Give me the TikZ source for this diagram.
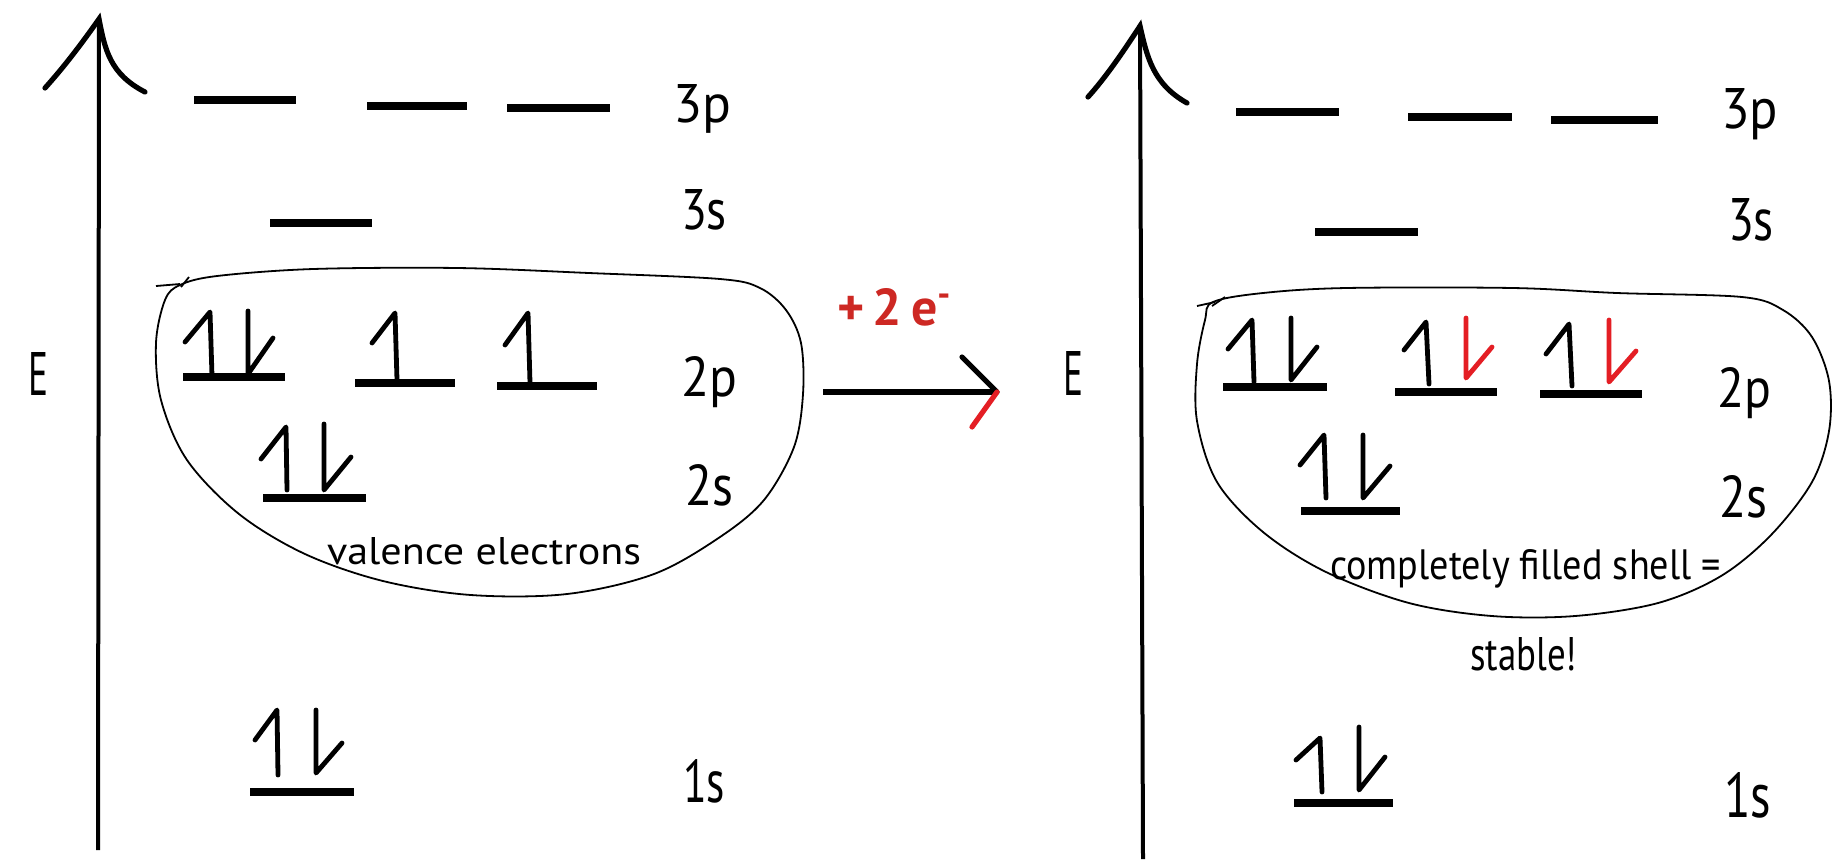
\documentclass[tikz,border=0pt]{standalone}
\usepackage{fontspec}
\usepackage{graphicx}
\setsansfont{PT Sans}
\newdimen\pu \pu=0.5pt
\definecolor{txtred}{RGB}{205,40,35}
\definecolor{elred}{RGB}{228,30,36}
\tikzset{
 level/.style={line width=3.6pt},
 elec/.style={line width=2.4pt, line cap=round, line join=round},
 axisline/.style={line width=2pt},
 arm/.style={line width=2.6pt, line cap=round, line join=round},
 tiparm/.style={line width=2.6pt, line cap=round, line join=miter},
 blob/.style={line width=0.9pt},
 lbl/.style={anchor=base west, inner sep=0pt, outer sep=0pt, font=\sffamily},
}
\newcommand{\lab}[6]{\node[lbl] (#1) at (#2,#3) {\resizebox{#4\pu}{#5\pu}{#6}};}
\begin{document}
\begin{tikzpicture}[x=0.5pt,y=-0.5pt]
\fill[white] (0,0) rectangle (1839,859);
\useasboundingbox (0,0) rectangle (1839,859);

% ---------- left panel ----------
\coordinate (LTop) at (99,19);
\coordinate (LBot) at (98,850);
\draw[axisline] (LTop) -- (LBot);
\draw[tiparm] (45,88) .. controls (63,68) and (80,46) .. (LTop) .. controls (105,50) and (110,74) .. (145,92);
\lab{EL}{28}{395}{20}{43}{E}

\draw[level] (194,100) -- (296,100);
\draw[level] (367,106) -- (467,106);
\draw[level] (507,108) -- (610,108);
\draw[level] (270,223) -- (372,223);
\draw[level] (183,377) -- (285,377);
\draw[level] (355,383) -- (455,383);
\draw[level] (497,386) -- (597,386);
\draw[level] (263,498) -- (366,498);
\draw[level] (250,792) -- (354,792);

\lab{L3p}{673}{122}{58}{38}{3p}
\lab{L3s}{681}{229}{46}{40}{3s}
\lab{L2p}{681}{396}{56}{40}{2p}
\lab{L2s}{685}{505}{48}{41}{2s}
\lab{L1s}{683}{802}{42}{43}{1s}

\draw[elec] (212,376) -- (210,312) -- (185,342);
\draw[elec] (248,311) -- (248,374) -- (273,338);
\draw[elec] (397,380) -- (395,313) -- (372,343);
\draw[elec] (530,383) -- (528,313) -- (505,345);
\draw[elec] (287,490) -- (286,427) -- (261,459);
\draw[elec] (324,424) -- (324,490) -- (351,457);
\draw[elec] (278,775) -- (277,710) -- (255,740);
\draw[elec] (316,710) -- (316,773) -- (342,743);

\draw[blob] plot[smooth cycle, tension=0.55] coordinates {
 (165,300)(180,285)(217,276)(313,269)(458,268)(589,273)(720,279)(760,288)(786,310)
 (801,343)(803,394)(794,447)(764,500)(720,537)(654,574)(567,594)(471,595)(383,581)
 (305,554)(239,514)(187,460)(161,400)(156,343)};
\draw[blob] (156,286) -- (180,284);
\draw[blob] (181,287) -- (189,277);
\lab{val}{327}{564}{314}{27}{valence electrons}

% ---------- middle arrow ----------
\coordinate (arrS) at (823,392);
\coordinate (arrE) at (997,392);
\coordinate (barbB) at (962,357);
\coordinate (barbR) at (972,427);
\draw[line width=2.6pt] (arrS) -- (arrE);
\draw[arm] (barbB) -- (arrE);
\draw[arm, elred] (arrE) -- (barbR);
\node[lbl, text=txtred] (plus) at (837,325) {\resizebox{116\pu}{!}{\bfseries +\,2\,e\textsuperscript{-}}};

% ---------- right panel ----------
\coordinate (RTop) at (1140,26);
\coordinate (RBot) at (1143,859);
\draw[axisline] (RTop) -- (RBot);
\draw[tiparm] (1088,97) .. controls (1106,77) and (1123,52) .. (RTop) .. controls (1147,57) and (1153,84) .. (1187,103);
\lab{ER}{1063}{395}{20}{44}{E}

\draw[level] (1236,112) -- (1339,112);
\draw[level] (1408,117) -- (1512,117);
\draw[level] (1551,120) -- (1658,120);
\draw[level] (1315,232) -- (1418,232);
\draw[level] (1223,387) -- (1327,387);
\draw[level] (1395,392) -- (1497,392);
\draw[level] (1540,394) -- (1642,394);
\draw[level] (1301,511) -- (1400,511);
\draw[level] (1294,803) -- (1393,803);

\lab{R3p}{1721}{128}{57}{40}{3p}
\lab{R3s}{1728}{240}{46}{42}{3s}
\lab{R2p}{1717}{407}{54}{40}{2p}
\lab{R2s}{1719}{517}{48}{42}{2s}
\lab{R1s}{1724}{817}{47}{45}{1s}

\draw[elec] (1254,382) -- (1252,320) -- (1228,349);
\draw[elec] (1291,318) -- (1291,380) -- (1317,347);
\draw[elec] (1429,384) -- (1426,322) -- (1404,350);
\draw[elec, elred] (1466,318) -- (1466,378) -- (1492,347);
\draw[elec] (1572,386) -- (1569,324) -- (1546,354);
\draw[elec, elred] (1609,320) -- (1609,382) -- (1636,351);
\draw[elec] (1326,498) -- (1324,435) -- (1300,465);
\draw[elec] (1363,435) -- (1363,498) -- (1390,466);
\draw[elec] (1322,792) -- (1320,738) -- (1296,760);
\draw[elec] (1359,727) -- (1359,790) -- (1385,757);

\draw[blob] plot[smooth cycle, tension=0.55] coordinates {
 (1205,320)(1213,302)(1263,293)(1346,288)(1513,288)(1617,293)(1742,297)(1783,310)
 (1812,337)(1829,381)(1829,431)(1812,482)(1771,535)(1721,576)(1658,603)(1575,616)
 (1492,616)(1409,603)(1326,572)(1263,532)(1217,482)(1197,421)(1197,364)};
\draw[blob] (1197,306) -- (1215,302);
\draw[blob] (1212,306) -- (1225,297);
\lab{filled}{1330}{579}{391}{30}{completely filled shell =}
\lab{stable}{1470}{670}{107}{33}{stable!}
\end{tikzpicture}
\end{document}
